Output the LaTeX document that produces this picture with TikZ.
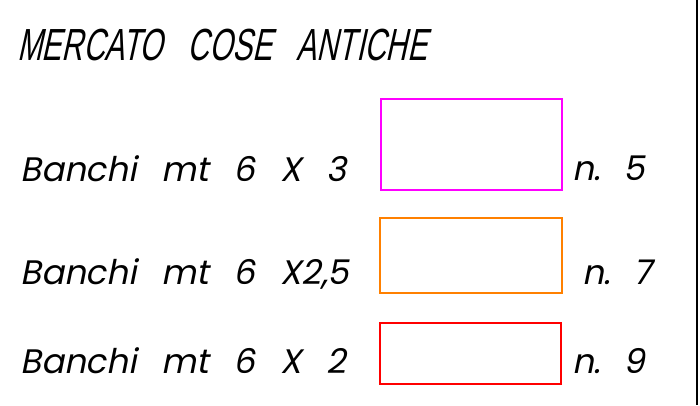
\documentclass[tikz,border=0pt]{standalone}
\usepackage{fontspec}
\setmainfont[FakeSlant=0.2,WordSpace=2.75]{Poppins}
\newfontfamily\titlefont[FakeSlant=0.22,FakeStretch=0.66,WordSpace=3.0]{Liberation Sans}
\usetikzlibrary{positioning}
\definecolor{fucsia}{RGB}{255,0,255}
\definecolor{arancio}{RGB}{255,128,0}
\definecolor{rosso}{RGB}{255,0,0}
\tikzstyle{legenda}=[
  anchor=base west,
  inner sep=0pt,
  font=\fontsize{34}{40}\selectfont,
]
\tikzstyle{banco}=[
  draw,
  line width=1.5pt,
  anchor=north west,
  inner sep=0pt,
]
\tikzset{
  titolo/.style={anchor=base west, inner sep=0pt,
    font=\titlefont\fontsize{45}{50}\selectfont},
}

\begin{document}
\begin{tikzpicture}[x=1pt,y=-1pt]
  \useasboundingbox (0,0) rectangle (700,405);
  \node[titolo] (titolo) at (17,60) {MERCATO COSE ANTICHE};
  % banchi
  \node[legenda] (t3) at (20,181) {Banchi mt 6 X 3};
  \node[legenda] (t25) at (20,284) {Banchi mt 6 X2,5};
  \node[legenda] (t2) at (20,373) {Banchi mt 6 X 2};
  \node[banco, draw=fucsia, minimum width=181pt, minimum height=91pt] (b3) at (380,98) {};
  \node[banco, draw=arancio, minimum width=182pt, minimum height=75pt] (b25) at (379,217) {};
  \node[banco, draw=rosso, minimum width=181pt, minimum height=61pt] (b2) at (379,322) {};
  \node[legenda] (n3) at (572,180) {n.\hspace{22pt}5};
  \node[legenda] (n25) at (582,284) {n.\hspace{22pt}7};
  \node[legenda] (n2) at (572,373) {n.\hspace{22pt}9};
  % bordo
  \coordinate (bordoA) at (697,0);
  \coordinate (bordoB) at (697,405);
  \draw[line width=2pt] (bordoA) -- (bordoB);
\end{tikzpicture}
\end{document}
